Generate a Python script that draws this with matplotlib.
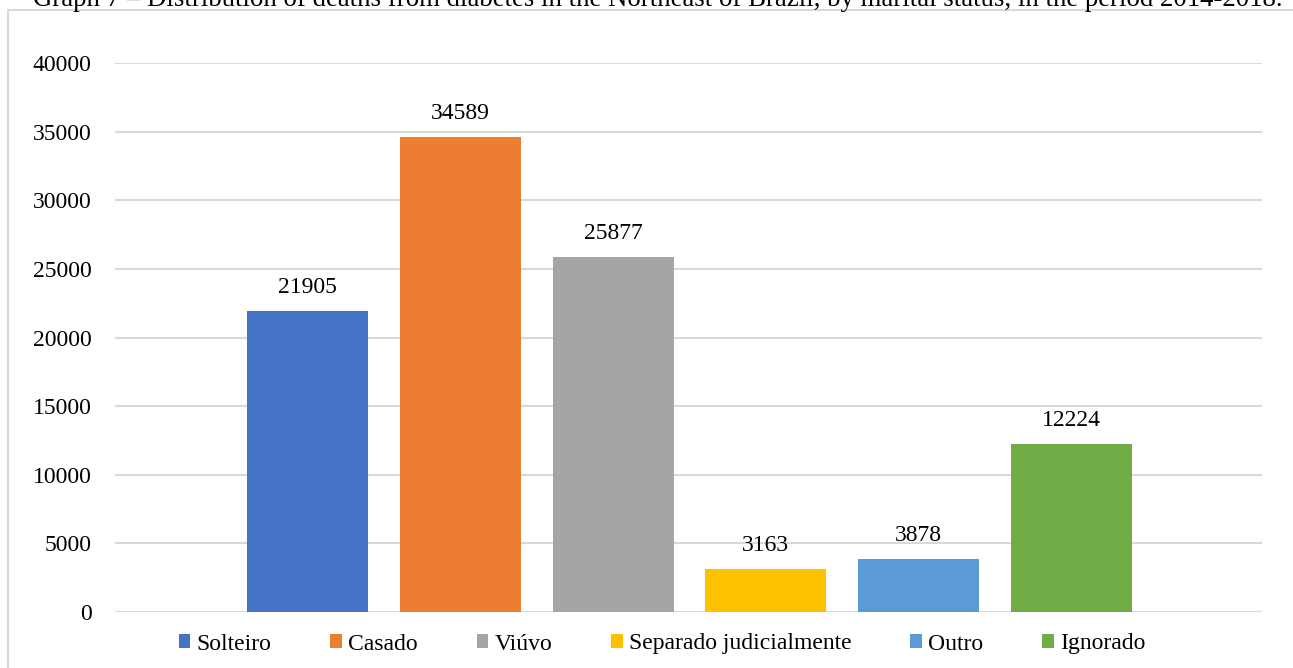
import matplotlib
matplotlib.use("Agg")
import matplotlib.pyplot as plt
from matplotlib.patches import Rectangle, Patch

# Data: deaths from diabetes by marital status
categories = ["Solteiro", "Casado", "Viúvo", "Separado judicialmente", "Outro", "Ignorado"]
deaths = [21905, 34589, 25877, 3163, 3878, 12224]
colors = ["#4472C4", "#ED7D31", "#A5A5A5", "#FFC000", "#5B9BD5", "#70AD47"]
y_ticks = [0, 5000, 10000, 15000, 20000, 25000, 30000, 35000, 40000]
title = ("Graph 7 – Distribution of deaths from diabetes in the Northeast of Brazil, "
         "by marital status, in the period 2014-2018.")

W, H, DPI = 1293, 668, 100
plt.rcParams["font.family"] = ["Liberation Serif", "DejaVu Serif"]

fig = plt.figure(figsize=(W / DPI, H / DPI), dpi=DPI)

# chart frame
fig.patches.append(Rectangle((8 / W, -0.1), 1.2, 1 - 10 / H + 0.1,
                             transform=fig.transFigure, fill=False,
                             edgecolor="#d9d9d9", linewidth=1.5))

# caption, partly cut by the top edge
fig.text(33 / W, 1 - 6 / H, title, fontsize=19.3, ha="left", va="baseline",
         color="black")

left, right, top, bottom = 115, 1262, 63, 612
ax = fig.add_axes([left / W, 1 - bottom / H, (right - left) / W, (bottom - top) / H])

# one cluster of six bars, spaced like a clustered column chart
span = right - left
bar_w = 121
step = 152.8
first = 192.5
xs = [first + i * step for i in range(len(deaths))]
ax.bar(xs, deaths, width=bar_w, color=colors, zorder=3)
for x, v in zip(xs, deaths):
    ax.text(x, v + 950, f"{v}", ha="center", va="bottom", fontsize=17)

ax.set_xlim(0, span)
ax.set_ylim(0, 40000)
ax.set_yticks(y_ticks)
ax.set_yticklabels([str(t) for t in y_ticks], fontsize=17)
ax.set_xticks([])
ax.tick_params(axis="y", length=0, pad=17)
for s in ax.spines.values():
    s.set_visible(False)
ax.grid(axis="y", color="#d9d9d9", linewidth=1.5, zorder=0)

handles = [Patch(facecolor=c, edgecolor="none") for c in colors]
fig.legend(handles, categories, loc="center", ncol=6,
           bbox_to_anchor=(662 / W, 1 - 644 / H), frameon=False,
           fontsize=17, handlelength=0.5, handleheight=0.5,
           handletextpad=0.25, columnspacing=2.5)

fig.savefig("out.png", dpi=DPI)
